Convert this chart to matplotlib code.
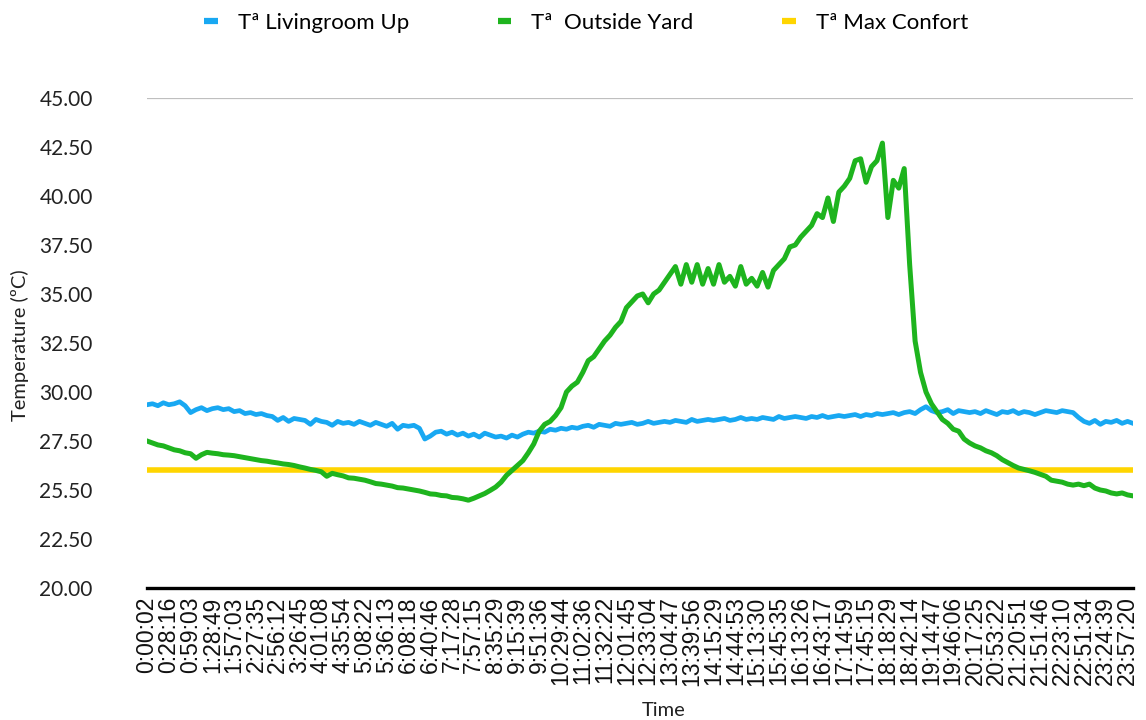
import numpy as np
import matplotlib
matplotlib.use("Agg")
import matplotlib.pyplot as plt

# ---------------- data ----------------
time_labels = [
    "0:00:02", "0:28:16", "0:59:03", "1:28:49", "1:57:03", "2:27:35", "2:56:12", "3:26:45",
    "4:01:08", "4:35:54", "5:08:22", "5:36:13", "6:08:18", "6:40:46", "7:17:28", "7:57:15",
    "8:35:29", "9:15:39", "9:51:36", "10:29:44", "11:02:36", "11:32:22", "12:01:45", "12:33:04",
    "13:04:47", "13:39:56", "14:15:29", "14:44:53", "15:13:30", "15:45:35", "16:13:26", "16:43:17",
    "17:14:59", "17:45:15", "18:18:29", "18:42:14", "19:14:47", "19:46:06", "20:17:25", "20:53:22",
    "21:20:51", "21:51:46", "22:23:10", "22:51:34", "23:24:39", "23:57:20",
]

# samples every quarter of a tick interval
livingroom_up = [
    29.35, 29.4, 29.3, 29.45, 29.35, 29.4, 29.5, 29.3,
    28.95, 29.1, 29.2, 29.05, 29.15, 29.2, 29.1, 29.15,
    29.0, 29.05, 28.9, 28.95, 28.85, 28.9, 28.8, 28.75,
    28.55, 28.7, 28.5, 28.65, 28.6, 28.55, 28.35, 28.6,
    28.5, 28.45, 28.3, 28.5, 28.4, 28.45, 28.35, 28.5,
    28.4, 28.3, 28.45, 28.35, 28.25, 28.4, 28.1, 28.3,
    28.25, 28.3, 28.15, 27.6, 27.75, 27.95, 28.0, 27.85,
    27.95, 27.8, 27.9, 27.75, 27.85, 27.7, 27.9, 27.8,
    27.7, 27.75, 27.65, 27.8, 27.7, 27.85, 27.95, 27.9,
    28.0, 27.95, 28.1, 28.05, 28.15, 28.1, 28.2, 28.15,
    28.25, 28.3, 28.2, 28.35, 28.3, 28.25, 28.4, 28.35,
    28.4, 28.45, 28.35, 28.4, 28.5, 28.4, 28.45, 28.5,
    28.45, 28.55, 28.5, 28.45, 28.6, 28.5, 28.55, 28.6,
    28.55, 28.6, 28.65, 28.55, 28.6, 28.7, 28.6, 28.65,
    28.6, 28.7, 28.65, 28.6, 28.75, 28.65, 28.7, 28.75,
    28.7, 28.65, 28.75, 28.7, 28.8, 28.7, 28.75, 28.8,
    28.75, 28.8, 28.85, 28.75, 28.85, 28.8, 28.9, 28.85,
    28.9, 28.95, 28.85, 28.95, 29.0, 28.9, 29.1, 29.25,
    29.05, 28.95, 29.0, 29.1, 28.9, 29.05, 29.0, 28.95,
    29.0, 28.9, 29.05, 28.95, 28.85, 29.0, 28.95, 29.05,
    28.9, 29.0, 28.95, 28.85, 28.95, 29.05, 29.0, 28.95,
    29.05, 29.0, 28.95, 28.7, 28.5, 28.4, 28.55, 28.35,
    28.5, 28.45, 28.55, 28.4, 28.5, 28.4,
]

outside_yard = [
    27.5, 27.4, 27.3, 27.25, 27.15, 27.05, 27.0, 26.9,
    26.85, 26.62, 26.8, 26.92, 26.88, 26.85, 26.8, 26.78,
    26.75, 26.7, 26.65, 26.6, 26.55, 26.5, 26.47, 26.42,
    26.38, 26.33, 26.3, 26.25, 26.18, 26.12, 26.05, 26.0,
    25.93, 25.7, 25.85, 25.78, 25.72, 25.62, 25.6, 25.55,
    25.5, 25.42, 25.33, 25.3, 25.25, 25.2, 25.12, 25.1,
    25.05, 25.0, 24.95, 24.88, 24.8, 24.78, 24.72, 24.7,
    24.62, 24.6, 24.55, 24.48, 24.58, 24.7, 24.82, 24.98,
    25.15, 25.4, 25.75, 26.0, 26.25, 26.5, 26.9, 27.35,
    28.0, 28.35, 28.5, 28.8, 29.2, 30.0, 30.3, 30.5,
    31.0, 31.6, 31.8, 32.2, 32.6, 32.9, 33.3, 33.6,
    34.3, 34.6, 34.9, 35.0, 34.55, 35.0, 35.2, 35.6,
    36.0, 36.4, 35.5, 36.5, 35.6, 36.5, 35.5, 36.3,
    35.5, 36.5, 35.6, 35.9, 35.4, 36.4, 35.5, 35.8,
    35.4, 36.1, 35.35, 36.2, 36.5, 36.8, 37.4, 37.5,
    37.9, 38.2, 38.5, 39.1, 38.9, 39.9, 38.7, 40.2,
    40.5, 40.9, 41.8, 41.9, 40.7, 41.5, 41.8, 42.7,
    38.9, 40.8, 40.4, 41.4, 36.5, 32.6, 31.0, 30.0,
    29.4, 29.0, 28.6, 28.4, 28.1, 28.0, 27.6, 27.4,
    27.25, 27.15, 27.0, 26.9, 26.75, 26.55, 26.4, 26.25,
    26.12, 26.05, 25.98, 25.9, 25.8, 25.7, 25.5, 25.45,
    25.4, 25.3, 25.25, 25.3, 25.22, 25.3, 25.1, 25.0,
    24.95, 24.85, 24.8, 24.85, 24.75, 24.7,
]

max_confort = 26.0

y_ticks = [20.0, 22.5, 25.0, 27.5, 30.0, 32.5, 35.0, 37.5, 40.0, 42.5, 45.0]
y_tick_labels = ["20.00", "22.50", "25.50", "27.50", "30.00", "32.50",
                 "35.00", "37.50", "40.00", "42.50", "45.00"]

series_names = ["Tª Livingroom Up", "Tª  Outside Yard", "Tª Max Confort"]

# ---------------- figure ----------------
W, H = 1146, 720
fig = plt.figure(figsize=(W / 100, H / 100), dpi=100)
ax = fig.add_axes([147 / W, 1 - 588 / H, (1133 - 147) / W, (588 - 98) / H])

step = 0.25
x_blue = np.arange(len(livingroom_up)) * step
x_green = np.arange(len(outside_yard)) * step
x_end = max(x_blue[-1], x_green[-1])

c_blue = "#18A8F2"
c_green = "#1EB41E"
c_yellow = "#FFD500"

l1, = ax.plot(x_blue, livingroom_up, color=c_blue, lw=3.4, solid_joinstyle="round", zorder=3)
l2, = ax.plot(x_green, outside_yard, color=c_green, lw=3.6, solid_joinstyle="round", zorder=4)
l3, = ax.plot([0, x_end], [max_confort, max_confort], color=c_yellow, lw=4.0, zorder=2)

ax.set_xlim(0, x_end)
ax.set_ylim(20, 45)
ax.axhline(45, color="#BFBFBF", lw=1.6, zorder=1)

for s in ["top", "right", "left"]:
    ax.spines[s].set_visible(False)
ax.spines["bottom"].set_color("black")
ax.spines["bottom"].set_linewidth(2.4)

ax.set_yticks(y_ticks)
ax.set_yticklabels(y_tick_labels, fontfamily="Lato", fontsize=15, color="#222222")
ax.tick_params(axis="y", length=0, pad=39)

ax.set_xticks(np.arange(len(time_labels)))
ax.set_xticklabels(time_labels, rotation=90, fontfamily="Liberation Sans", fontsize=16.5,
                   color="#111111")
ax.tick_params(axis="x", length=0, pad=6)

fig.text(20 / W, 1 - 345 / H, "Temperature (ºC)", rotation=90, ha="center", va="center",
         fontfamily="Lato", fontsize=14.5, color="#222222")
fig.text(664 / W, 1 - 711 / H, "Time", ha="center", va="center",
         fontfamily="Lato", fontsize=14.5, color="#222222")

leg = fig.legend([l1, l2, l3], series_names, loc="center", bbox_to_anchor=(586 / W, 1 - 23 / H),
                 ncol=3, frameon=False, handlelength=0.6, handletextpad=0.9, columnspacing=4.0,
                 prop={"family": "Lato", "size": 16})
for h in leg.legend_handles:
    h.set_linewidth(4.5)
    h.set_solid_capstyle("butt")

fig.savefig("out.png", dpi=100)
